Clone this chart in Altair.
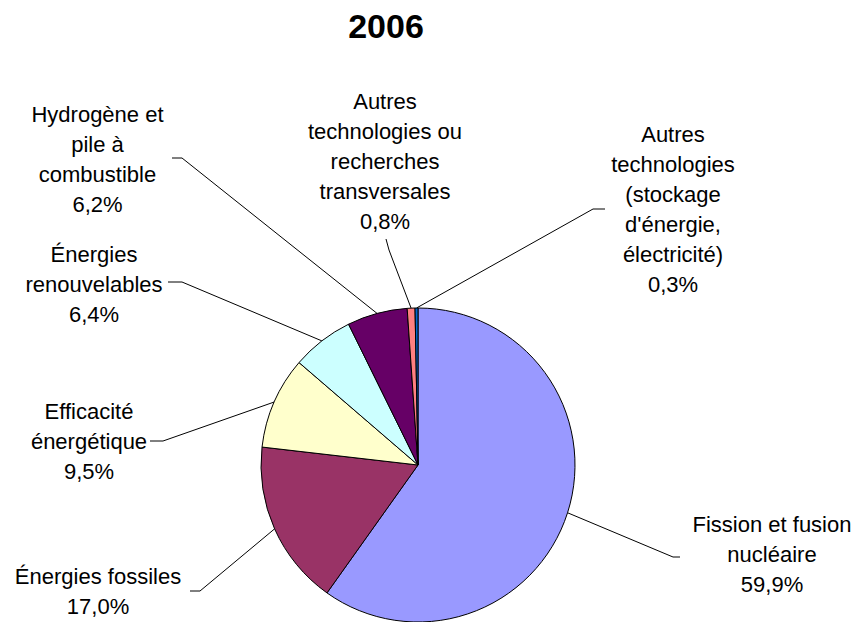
import math
import altair as alt
import pandas as pd

# ---- data ----
categories = [
    "Fission et fusion nucléaire",
    "Énergies fossiles",
    "Efficacité énergétique",
    "Énergies renouvelables",
    "Hydrogène et pile à combustible",
    "Autres technologies ou recherches transversales",
    "Autres technologies (stockage d'énergie, électricité)",
]
values = [59.9, 17.0, 9.5, 6.4, 6.2, 0.8, 0.3]
label_names = [
    "Fission et fusion\nnucléaire",
    "Énergies fossiles",
    "Efficacité\nénergétique",
    "Énergies\nrenouvelables",
    "Hydrogène et\npile à\ncombustible",
    "Autres\ntechnologies ou\nrecherches\ntransversales",
    "Autres\ntechnologies\n(stockage\nd'énergie,\nélectricité)",
]
colors = ["#9999FF", "#993366", "#FFFFCC", "#CCFFFF", "#660066", "#FF8080", "#0066CC"]
title_text = "2006"

# ---- layout (chart pixel coordinates) ----
W, H = 846, 614
CX, CY, R = 410, 457, 157
label_x = [764, 90, 81, 86, 89.5, 377, 665]
label_y = [517, 569, 404, 247, 107, 94, 127]  # first line centre
elbow_x = [665, 192, 155, 174, 174, 381, 585]
elbow_y = [549, 583, 433, 274, 150, 242, 201]
end_x = [672, 182, 142, 160, 164, 378, 597]
end_y = [549, 583, 433, 274, 150, 231, 201]

total = sum(values)
pie_df = pd.DataFrame({"cat": categories, "value": values, "order": list(range(len(values)))})

texts = [n + "\n" + f"{v:.1f}".replace(".", ",") + "%" for n, v in zip(label_names, values)]
label_df = pd.DataFrame({"x": label_x, "y": label_y, "text": texts})

rows = []
cum = 0.0
for i, v in enumerate(values):
    a = 2 * math.pi * (cum + v / 2) / total
    cum += v
    ex, ey = CX + R * math.sin(a), CY - R * math.cos(a)
    rows.append({"id": i, "o": 0, "x": ex, "y": ey})
    rows.append({"id": i, "o": 1, "x": elbow_x[i], "y": elbow_y[i]})
    rows.append({"id": i, "o": 2, "x": end_x[i], "y": end_y[i]})
line_df = pd.DataFrame(rows)

xs = alt.Scale(domain=[0, W])
ys = alt.Scale(domain=[0, H], reverse=True)

pie = alt.Chart(pie_df).mark_arc(radius=R, stroke="black", strokeWidth=1).encode(
    theta=alt.Theta("value:Q", stack=True),
    color=alt.Color("cat:N", scale=alt.Scale(domain=categories, range=colors), legend=None),
    order=alt.Order("order:Q"),
    x=alt.value(CX),
    y=alt.value(CY),
)

leaders = alt.Chart(line_df).mark_line(color="black", strokeWidth=1).encode(
    x=alt.X("x:Q", scale=xs, axis=None),
    y=alt.Y("y:Q", scale=ys, axis=None),
    detail="id:N",
    order="o:Q",
)

labels = alt.Chart(label_df).mark_text(
    lineBreak="\n", align="center", baseline="middle", fontSize=22,
    font="Liberation Sans", lineHeight=30, color="black"
).encode(
    x=alt.X("x:Q", scale=xs, axis=None),
    y=alt.Y("y:Q", scale=ys, axis=None),
    text="text:N",
)

title = alt.Chart(pd.DataFrame({"x": [378], "y": [20], "t": [title_text]})).mark_text(
    align="center", baseline="middle", fontSize=34, fontWeight="bold",
    font="Liberation Sans", color="black"
).encode(
    x=alt.X("x:Q", scale=xs, axis=None),
    y=alt.Y("y:Q", scale=ys, axis=None),
    text="t:N",
)

chart = alt.layer(pie, leaders, labels, title).properties(
    width=W, height=H, autosize=alt.AutoSizeParams(type="none"), padding=0
).configure_view(stroke=None)

chart.save("out.html", embed_options={"renderer": "svg", "actions": False})
